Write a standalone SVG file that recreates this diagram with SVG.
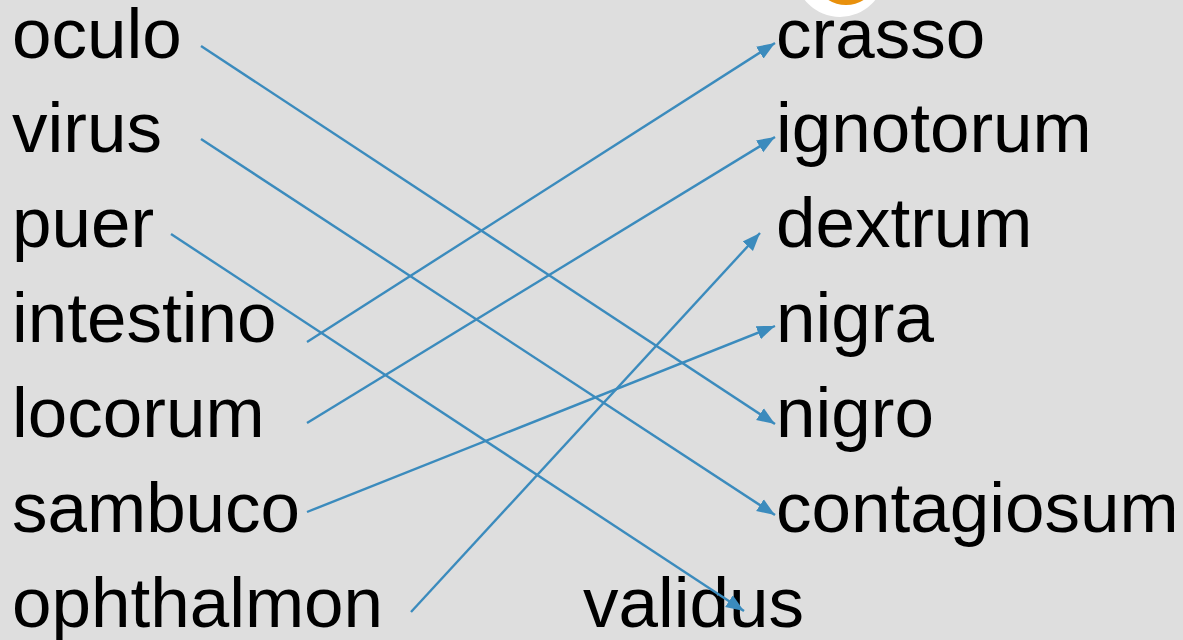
<svg xmlns="http://www.w3.org/2000/svg" width="1183" height="640" viewBox="0 0 1183 640">
<style>
.t{font-family:"Liberation Sans",Arial,sans-serif;font-size:71px;fill:#000}
.c{stroke:#3b8bbd;stroke-width:2.4;fill:none;marker-end:url(#ah)}
</style>
<defs>
<marker id="ah" markerUnits="userSpaceOnUse" markerWidth="20" markerHeight="16" refX="18" refY="8" orient="auto">
<path d="M0,1 L18,8 L0,15 Z" fill="#3b8bbd"/>
</marker>
</defs>
<rect width="1183" height="640" fill="#dedede"/>
<g id="badge">
<circle cx="840" cy="-28" r="45" fill="#ffffff"/>
<circle cx="846" cy="-28" r="30" fill="none" stroke="#e8900c" stroke-width="6"/>
</g>
<g id="n-oculo"><text class="t" x="12" y="58">oculo</text></g>
<g id="n-virus"><text class="t" x="12" y="152">virus</text></g>
<g id="n-puer"><text class="t" x="12" y="247">puer</text></g>
<g id="n-intestino"><text class="t" x="12" y="342">intestino</text></g>
<g id="n-locorum"><text class="t" x="12" y="437">locorum</text></g>
<g id="n-sambuco"><text class="t" x="12" y="532">sambuco</text></g>
<g id="n-ophthalmon"><text class="t" x="12" y="627">ophthalmon</text></g>
<g id="n-crasso"><text class="t" x="776" y="58">crasso</text></g>
<g id="n-ignotorum"><text class="t" x="776" y="152">ignotorum</text></g>
<g id="n-dextrum"><text class="t" x="776" y="247">dextrum</text></g>
<g id="n-nigra"><text class="t" x="776" y="342">nigra</text></g>
<g id="n-nigro"><text class="t" x="776" y="437">nigro</text></g>
<g id="n-contagiosum"><text class="t" x="776" y="532">contagiosum</text></g>
<g id="n-validus"><text class="t" x="583" y="627">validus</text></g>
<g id="connectors">
<line class="c" x1="201" y1="46" x2="775" y2="424"/>
<line class="c" x1="201" y1="139" x2="775" y2="515"/>
<line class="c" x1="171" y1="234" x2="744" y2="611"/>
<line class="c" x1="307" y1="342" x2="775" y2="43"/>
<line class="c" x1="307" y1="423" x2="775" y2="137"/>
<line class="c" x1="307" y1="512" x2="775" y2="326"/>
<line class="c" x1="411" y1="612" x2="760" y2="233"/>
</g>
</svg>
